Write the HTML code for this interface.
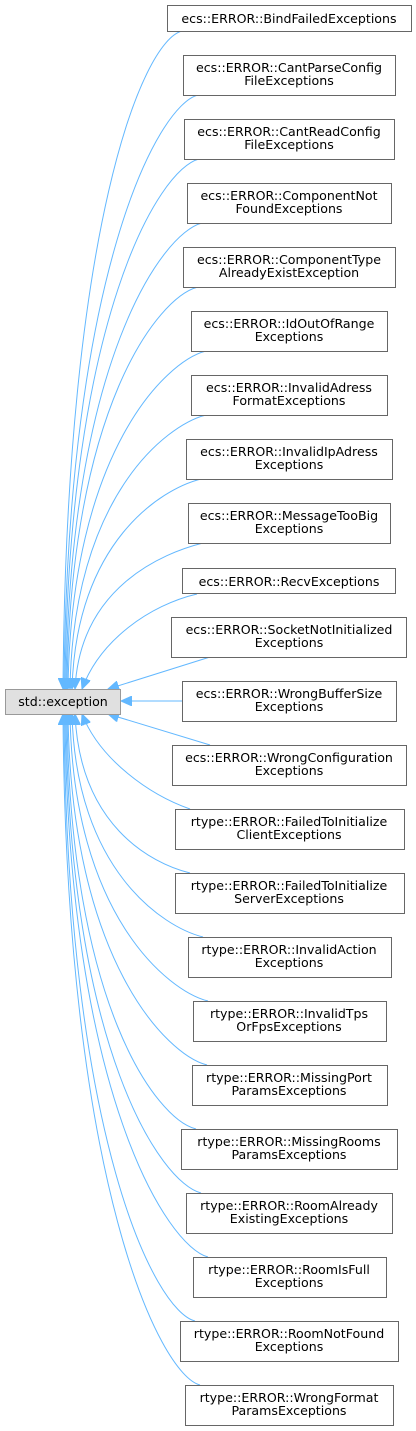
<!DOCTYPE html>
<html><head><meta charset="utf-8"><style>
html,body{margin:0;padding:0;background:#fff;}
svg{display:block;}
text{font-family:"DejaVu Sans","Liberation Sans",sans-serif;font-size:12.6px;fill:#000;text-anchor:middle;}
.b{fill:#fff;stroke:#666;stroke-width:1;}
.e{fill:none;stroke:#63b8ff;stroke-width:1;}
</style></head><body>
<svg width="416" height="1431" viewBox="0 0 416 1431" xmlns="http://www.w3.org/2000/svg">
<defs><marker id="a" markerUnits="userSpaceOnUse" markerWidth="12" markerHeight="10" refX="11" refY="5" orient="auto"><path d="M0,0 L11,5 L0,10 z" fill="#63b8ff" stroke="#63b8ff"/></marker></defs>
<g>
<path class="e" marker-end="url(#a)" d="M182,31 C142,41 66,229 63,689"/>
<path class="e" marker-end="url(#a)" d="M198,95 C158,105 67,273 64,689"/>
<path class="e" marker-end="url(#a)" d="M199,159 C159,169 68,318 65,689"/>
<path class="e" marker-end="url(#a)" d="M202,223 C162,233 69,363 66,689"/>
<path class="e" marker-end="url(#a)" d="M198,287 C158,297 70,408 67,689"/>
<path class="e" marker-end="url(#a)" d="M206,351 C166,361 71,452 68,689"/>
<path class="e" marker-end="url(#a)" d="M206,415 C166,425 73,497 70,689"/>
<path class="e" marker-end="url(#a)" d="M201,479 C161,489 76,542 72,689"/>
<path class="e" marker-end="url(#a)" d="M203,543 C163,553 80,587 75,689"/>
<path class="e" marker-end="url(#a)" d="M197,594 C150,605 100,640 82,689"/>
<path class="e" marker-end="url(#a)" d="M210,657 L108,689"/>
<path class="e" marker-end="url(#a)" d="M182,701 L121,701"/>
<path class="e" marker-end="url(#a)" d="M210,745 L108,714"/>
<path class="e" marker-end="url(#a)" d="M190,809 C150,795 100,760 82,714"/>
<path class="e" marker-end="url(#a)" d="M190,873 C150,863 80,825 75,714"/>
<path class="e" marker-end="url(#a)" d="M203,937 C163,927 76,870 72,714"/>
<path class="e" marker-end="url(#a)" d="M208,1001 C168,991 73,915 70,714"/>
<path class="e" marker-end="url(#a)" d="M207,1065 C167,1055 71,960 68,714"/>
<path class="e" marker-end="url(#a)" d="M196,1129 C156,1119 70,1004 67,714"/>
<path class="e" marker-end="url(#a)" d="M201,1193 C161,1183 69,1049 66,714"/>
<path class="e" marker-end="url(#a)" d="M208,1257 C168,1247 68,1094 65,714"/>
<path class="e" marker-end="url(#a)" d="M195,1321 C155,1311 67,1139 64,714"/>
<path class="e" marker-end="url(#a)" d="M200,1385 C160,1375 66,1184 63,714"/>
</g>
<rect x="5.5" y="689.5" width="115" height="25" fill="#e0e0e0" stroke="#999"/>
<g transform="translate(0,1)">
<text x="63" y="705">std::exception</text>

<rect class="b" x="167.5" y="4.5" width="244" height="26"/><text x="289" y="22">ecs::ERROR::BindFailedExceptions</text>
<rect class="b" x="183.5" y="54.5" width="212" height="40"/><text x="289" y="71">ecs::ERROR::CantParseConfig</text><text x="289" y="84">FileExceptions</text>
<rect class="b" x="184.5" y="118.5" width="210" height="40"/><text x="289" y="135">ecs::ERROR::CantReadConfig</text><text x="289" y="148">FileExceptions</text>
<rect class="b" x="187.5" y="182.5" width="204" height="40"/><text x="289" y="199">ecs::ERROR::ComponentNot</text><text x="289" y="212">FoundExceptions</text>
<rect class="b" x="183.5" y="246.5" width="212" height="40"/><text x="289" y="263">ecs::ERROR::ComponentType</text><text x="289" y="276">AlreadyExistException</text>
<rect class="b" x="191.5" y="310.5" width="196" height="40"/><text x="289" y="327">ecs::ERROR::IdOutOfRange</text><text x="289" y="340">Exceptions</text>
<rect class="b" x="191.5" y="374.5" width="196" height="40"/><text x="289" y="391">ecs::ERROR::InvalidAdress</text><text x="289" y="404">FormatExceptions</text>
<rect class="b" x="186.5" y="438.5" width="206" height="40"/><text x="289" y="455">ecs::ERROR::InvalidIpAdress</text><text x="289" y="468">Exceptions</text>
<rect class="b" x="188.5" y="502.5" width="202" height="40"/><text x="289" y="519">ecs::ERROR::MessageTooBig</text><text x="289" y="532">Exceptions</text>
<rect class="b" x="182.5" y="567.5" width="213" height="25"/><text x="289" y="585">ecs::ERROR::RecvExceptions</text>
<rect class="b" x="171.5" y="616.5" width="235" height="40"/><text x="289" y="633">ecs::ERROR::SocketNotInitialized</text><text x="289" y="646">Exceptions</text>
<rect class="b" x="182.5" y="680.5" width="214" height="40"/><text x="289" y="697">ecs::ERROR::WrongBufferSize</text><text x="289" y="710">Exceptions</text>
<rect class="b" x="172.5" y="744.5" width="234" height="40"/><text x="289" y="761">ecs::ERROR::WrongConfiguration</text><text x="289" y="774">Exceptions</text>
<rect class="b" x="175.5" y="808.5" width="229" height="40"/><text x="289" y="825">rtype::ERROR::FailedToInitialize</text><text x="289" y="838">ClientExceptions</text>
<rect class="b" x="175.5" y="872.5" width="229" height="40"/><text x="289" y="889">rtype::ERROR::FailedToInitialize</text><text x="289" y="902">ServerExceptions</text>
<rect class="b" x="188.5" y="936.5" width="203" height="40"/><text x="289" y="953">rtype::ERROR::InvalidAction</text><text x="289" y="966">Exceptions</text>
<rect class="b" x="193.5" y="1000.5" width="193" height="40"/><text x="289" y="1017">rtype::ERROR::InvalidTps</text><text x="289" y="1030">OrFpsExceptions</text>
<rect class="b" x="192.5" y="1064.5" width="195" height="40"/><text x="289" y="1081">rtype::ERROR::MissingPort</text><text x="289" y="1094">ParamsExceptions</text>
<rect class="b" x="181.5" y="1128.5" width="216" height="40"/><text x="289" y="1145">rtype::ERROR::MissingRooms</text><text x="289" y="1158">ParamsExceptions</text>
<rect class="b" x="186.5" y="1192.5" width="206" height="40"/><text x="289" y="1209">rtype::ERROR::RoomAlready</text><text x="289" y="1222">ExistingExceptions</text>
<rect class="b" x="193.5" y="1256.5" width="193" height="40"/><text x="289" y="1273">rtype::ERROR::RoomIsFull</text><text x="289" y="1286">Exceptions</text>
<rect class="b" x="180.5" y="1320.5" width="218" height="40"/><text x="289" y="1337">rtype::ERROR::RoomNotFound</text><text x="289" y="1350">Exceptions</text>
<rect class="b" x="185.5" y="1384.5" width="208" height="40"/><text x="289" y="1401">rtype::ERROR::WrongFormat</text><text x="289" y="1414">ParamsExceptions</text>
</g>
</svg>
</body></html>
